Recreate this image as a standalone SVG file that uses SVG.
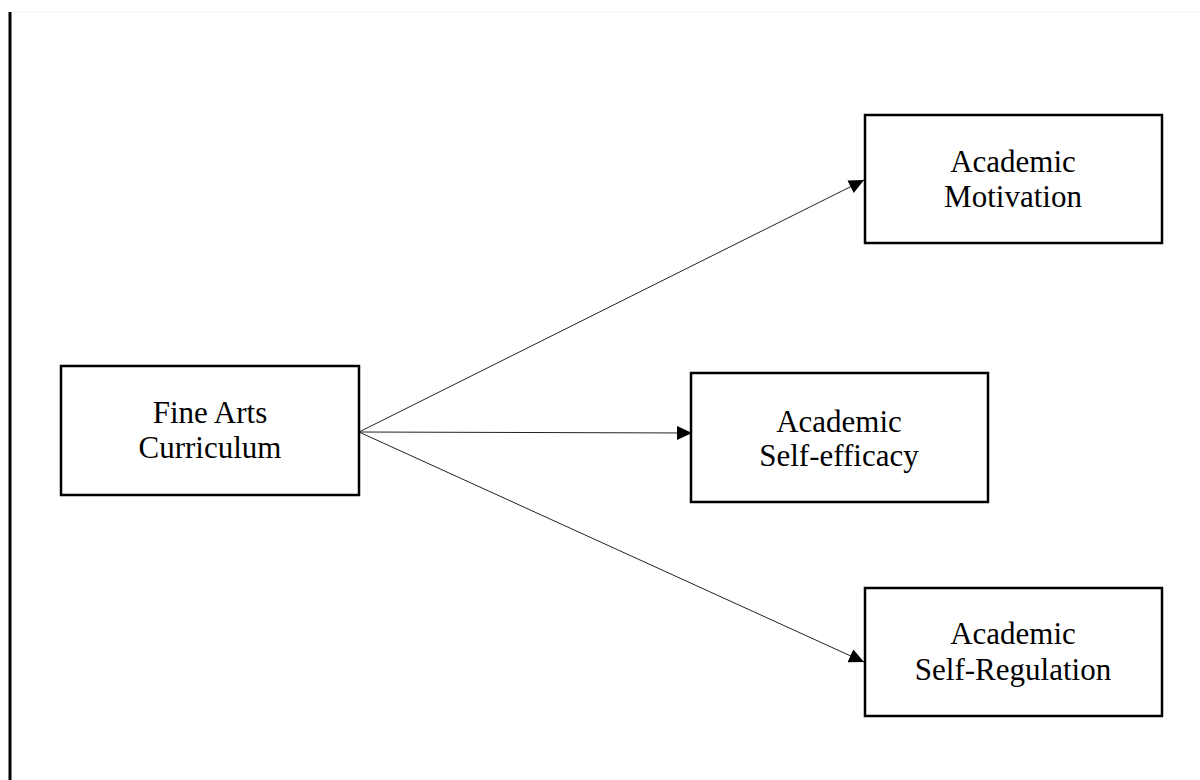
<svg xmlns="http://www.w3.org/2000/svg" width="1200" height="780" viewBox="0 0 1200 780">
  <defs>
    <marker id="arrow" markerUnits="userSpaceOnUse" markerWidth="16" markerHeight="14" refX="15" refY="7" orient="auto">
      <path d="M0,0 L15,7 L0,14 Z" fill="#000"/>
    </marker>
    <style>
      .box { fill: #fff; stroke: #000; stroke-width: 2.5; }
      .lbl { font-family: "Liberation Serif", "Times New Roman", serif; font-size: 31px; fill: #000; text-anchor: middle; }
      .conn { stroke: #222; stroke-width: 1; fill: none; marker-end: url(#arrow); }
    </style>
  </defs>
  <rect width="1200" height="780" fill="#fff"/>
  <line x1="11" y1="12" x2="1200" y2="12" stroke="#eeeeee" stroke-width="1"/>
  <line x1="10" y1="12" x2="10" y2="780" stroke="#000" stroke-width="3"/>

  <g id="connectors">
    <line class="conn" x1="359" y1="432" x2="864" y2="180"/>
    <line class="conn" x1="359" y1="432" x2="692" y2="433"/>
    <line class="conn" x1="359" y1="432" x2="864" y2="662"/>
  </g>

  <g id="fine-arts">
    <rect class="box" x="61" y="366" width="298" height="129"/>
    <text class="lbl" x="210" y="423">Fine Arts</text>
    <text class="lbl" x="210" y="458">Curriculum</text>
  </g>
  <g id="motivation">
    <rect class="box" x="865" y="115" width="297" height="128"/>
    <text class="lbl" x="1013" y="172">Academic</text>
    <text class="lbl" x="1013" y="207">Motivation</text>
  </g>
  <g id="self-efficacy">
    <rect class="box" x="691" y="373" width="297" height="129"/>
    <text class="lbl" x="839" y="432">Academic</text>
    <text class="lbl" x="839" y="466">Self-efficacy</text>
  </g>
  <g id="self-regulation">
    <rect class="box" x="865" y="588" width="297" height="128"/>
    <text class="lbl" x="1013" y="644">Academic</text>
    <text class="lbl" x="1013" y="680">Self-Regulation</text>
  </g>
</svg>
